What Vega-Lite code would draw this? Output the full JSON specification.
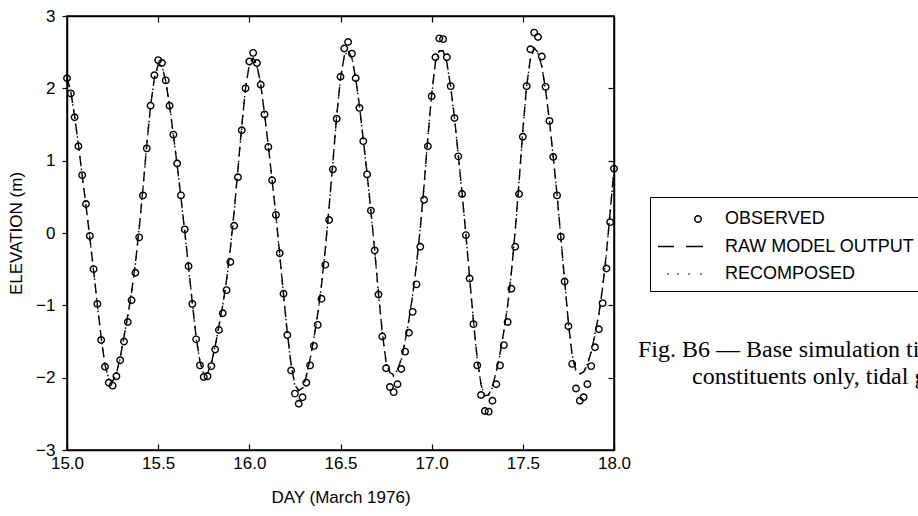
{
"$schema": "https://vega.github.io/schema/vega-lite/v6.json",
"width": 547, "height": 434,
"autosize": "none",
"padding": {"left": 67, "top": 16, "right": 304, "bottom": 66},
"background": "white",
"config": {
  "view": {"stroke": "black", "strokeWidth": 1.5},
  "font": "Liberation Sans",
  "axis": {"labelFont": "Liberation Sans", "labelFontSize": 17, "labelColor": "black", "labelFlush": false, "titleFont": "Liberation Sans", "titleFontSize": 17, "titleFontWeight": "normal", "titleColor": "black", "domainColor": "black", "domainWidth": 1.5, "tickColor": "black", "tickWidth": 1.2, "grid": false}
},
"title": {"text": ["Fig. B6 — Base simulation tidal elevations", "\u200b\u2003\u2003\u00a0constituents only, tidal gage"], "orient": "top", "anchor": "start", "frame": "group", "font": "Liberation Serif", "fontSize": 24, "fontWeight": "normal", "color": "black", "baseline": "top", "lineHeight": 27, "offset": 0, "dx": 571, "dy": 382},
"data": {"values": [
{"day":15.0,"obs":2.14,"raw":2.15,"rec":2.13},
{"day":15.0208,"obs":1.93,"raw":1.95,"rec":1.96},
{"day":15.0417,"obs":1.60,"raw":1.62,"rec":1.60},
{"day":15.0625,"obs":1.20,"raw":1.22,"rec":1.23},
{"day":15.0833,"obs":0.80,"raw":0.80,"rec":0.78},
{"day":15.1042,"obs":0.40,"raw":0.38,"rec":0.39},
{"day":15.125,"obs":-0.04,"raw":-0.06,"rec":-0.08},
{"day":15.1458,"obs":-0.50,"raw":-0.52,"rec":-0.51},
{"day":15.1667,"obs":-0.98,"raw":-0.99,"rec":-1.01},
{"day":15.1875,"obs":-1.48,"raw":-1.45,"rec":-1.44},
{"day":15.2083,"obs":-1.85,"raw":-1.82,"rec":-1.84},
{"day":15.2292,"obs":-2.07,"raw":-2.02,"rec":-2.01},
{"day":15.25,"obs":-2.11,"raw":-2.05,"rec":-2.07},
{"day":15.2708,"obs":-1.98,"raw":-1.95,"rec":-1.94},
{"day":15.2917,"obs":-1.76,"raw":-1.72,"rec":-1.74},
{"day":15.3125,"obs":-1.50,"raw":-1.44,"rec":-1.43},
{"day":15.3333,"obs":-1.23,"raw":-1.14,"rec":-1.16},
{"day":15.3542,"obs":-0.93,"raw":-0.82,"rec":-0.81},
{"day":15.375,"obs":-0.55,"raw":-0.42,"rec":-0.44},
{"day":15.3958,"obs":-0.06,"raw":0.06,"rec":0.07},
{"day":15.4167,"obs":0.52,"raw":0.62,"rec":0.60},
{"day":15.4375,"obs":1.17,"raw":1.22,"rec":1.23},
{"day":15.4583,"obs":1.76,"raw":1.76,"rec":1.74},
{"day":15.4792,"obs":2.18,"raw":2.14,"rec":2.15},
{"day":15.5,"obs":2.39,"raw":2.33,"rec":2.31},
{"day":15.5208,"obs":2.35,"raw":2.31,"rec":2.32},
{"day":15.5417,"obs":2.11,"raw":2.10,"rec":2.08},
{"day":15.5625,"obs":1.76,"raw":1.76,"rec":1.77},
{"day":15.5833,"obs":1.36,"raw":1.36,"rec":1.34},
{"day":15.6042,"obs":0.96,"raw":0.94,"rec":0.95},
{"day":15.625,"obs":0.52,"raw":0.49,"rec":0.47},
{"day":15.6458,"obs":0.05,"raw":0.02,"rec":0.03},
{"day":15.6667,"obs":-0.46,"raw":-0.47,"rec":-0.49},
{"day":15.6875,"obs":-0.98,"raw":-0.97,"rec":-0.96},
{"day":15.7083,"obs":-1.47,"raw":-1.44,"rec":-1.46},
{"day":15.7292,"obs":-1.83,"raw":-1.78,"rec":-1.77},
{"day":15.75,"obs":-1.99,"raw":-1.94,"rec":-1.96},
{"day":15.7708,"obs":-1.98,"raw":-1.94,"rec":-1.93},
{"day":15.7917,"obs":-1.84,"raw":-1.80,"rec":-1.82},
{"day":15.8125,"obs":-1.61,"raw":-1.57,"rec":-1.56},
{"day":15.8333,"obs":-1.34,"raw":-1.28,"rec":-1.30},
{"day":15.8542,"obs":-1.11,"raw":-1.00,"rec":-0.99},
{"day":15.875,"obs":-0.79,"raw":-0.65,"rec":-0.67},
{"day":15.8958,"obs":-0.40,"raw":-0.22,"rec":-0.21},
{"day":15.9167,"obs":0.10,"raw":0.30,"rec":0.28},
{"day":15.9375,"obs":0.77,"raw":0.88,"rec":0.89},
{"day":15.9583,"obs":1.42,"raw":1.48,"rec":1.46},
{"day":15.9792,"obs":2.00,"raw":2.00,"rec":2.01},
{"day":16.0,"obs":2.37,"raw":2.33,"rec":2.31},
{"day":16.0208,"obs":2.49,"raw":2.42,"rec":2.43},
{"day":16.0417,"obs":2.35,"raw":2.32,"rec":2.30},
{"day":16.0625,"obs":2.05,"raw":2.05,"rec":2.06},
{"day":16.0833,"obs":1.64,"raw":1.65,"rec":1.63},
{"day":16.1042,"obs":1.19,"raw":1.20,"rec":1.21},
{"day":16.125,"obs":0.73,"raw":0.73,"rec":0.71},
{"day":16.1458,"obs":0.25,"raw":0.24,"rec":0.25},
{"day":16.1667,"obs":-0.28,"raw":-0.30,"rec":-0.32},
{"day":16.1875,"obs":-0.84,"raw":-0.85,"rec":-0.84},
{"day":16.2083,"obs":-1.41,"raw":-1.38,"rec":-1.40},
{"day":16.2292,"obs":-1.90,"raw":-1.82,"rec":-1.81},
{"day":16.25,"obs":-2.22,"raw":-2.10,"rec":-2.12},
{"day":16.2708,"obs":-2.36,"raw":-2.18,"rec":-2.17},
{"day":16.2917,"obs":-2.27,"raw":-2.14,"rec":-2.16},
{"day":16.3125,"obs":-2.07,"raw":-1.98,"rec":-1.97},
{"day":16.3333,"obs":-1.83,"raw":-1.74,"rec":-1.76},
{"day":16.3542,"obs":-1.56,"raw":-1.45,"rec":-1.44},
{"day":16.375,"obs":-1.27,"raw":-1.12,"rec":-1.14},
{"day":16.3958,"obs":-0.91,"raw":-0.72,"rec":-0.71},
{"day":16.4167,"obs":-0.44,"raw":-0.22,"rec":-0.24},
{"day":16.4375,"obs":0.18,"raw":0.36,"rec":0.37},
{"day":16.4583,"obs":0.88,"raw":0.98,"rec":0.96},
{"day":16.4792,"obs":1.58,"raw":1.62,"rec":1.63},
{"day":16.5,"obs":2.16,"raw":2.14,"rec":2.12},
{"day":16.5208,"obs":2.55,"raw":2.45,"rec":2.46},
{"day":16.5417,"obs":2.64,"raw":2.52,"rec":2.50},
{"day":16.5625,"obs":2.48,"raw":2.42,"rec":2.43},
{"day":16.5833,"obs":2.14,"raw":2.14,"rec":2.12},
{"day":16.6042,"obs":1.73,"raw":1.75,"rec":1.76},
{"day":16.625,"obs":1.27,"raw":1.29,"rec":1.27},
{"day":16.6458,"obs":0.81,"raw":0.82,"rec":0.83},
{"day":16.6667,"obs":0.31,"raw":0.31,"rec":0.29},
{"day":16.6875,"obs":-0.24,"raw":-0.24,"rec":-0.23},
{"day":16.7083,"obs":-0.85,"raw":-0.83,"rec":-0.85},
{"day":16.7292,"obs":-1.43,"raw":-1.38,"rec":-1.37},
{"day":16.75,"obs":-1.87,"raw":-1.78,"rec":-1.80},
{"day":16.7708,"obs":-2.13,"raw":-1.93,"rec":-1.92},
{"day":16.7917,"obs":-2.20,"raw":-1.96,"rec":-1.98},
{"day":16.8125,"obs":-2.09,"raw":-1.90,"rec":-1.89},
{"day":16.8333,"obs":-1.88,"raw":-1.74,"rec":-1.76},
{"day":16.8542,"obs":-1.64,"raw":-1.50,"rec":-1.49},
{"day":16.875,"obs":-1.38,"raw":-1.20,"rec":-1.22},
{"day":16.8958,"obs":-1.09,"raw":-0.86,"rec":-0.85},
{"day":16.9167,"obs":-0.71,"raw":-0.44,"rec":-0.46},
{"day":16.9375,"obs":-0.19,"raw":0.06,"rec":0.07},
{"day":16.9583,"obs":0.46,"raw":0.66,"rec":0.64},
{"day":16.9792,"obs":1.20,"raw":1.32,"rec":1.33},
{"day":17.0,"obs":1.89,"raw":1.92,"rec":1.90},
{"day":17.0208,"obs":2.43,"raw":2.36,"rec":2.37},
{"day":17.0417,"obs":2.69,"raw":2.52,"rec":2.50},
{"day":17.0625,"obs":2.68,"raw":2.52,"rec":2.53},
{"day":17.0833,"obs":2.43,"raw":2.36,"rec":2.34},
{"day":17.1042,"obs":2.03,"raw":2.02,"rec":2.03},
{"day":17.125,"obs":1.59,"raw":1.60,"rec":1.58},
{"day":17.1458,"obs":1.06,"raw":1.08,"rec":1.09},
{"day":17.1667,"obs":0.54,"raw":0.56,"rec":0.54},
{"day":17.1875,"obs":-0.03,"raw":-0.02,"rec":-0.01},
{"day":17.2083,"obs":-0.63,"raw":-0.62,"rec":-0.64},
{"day":17.2292,"obs":-1.26,"raw":-1.22,"rec":-1.21},
{"day":17.25,"obs":-1.83,"raw":-1.74,"rec":-1.76},
{"day":17.2708,"obs":-2.24,"raw":-2.10,"rec":-2.09},
{"day":17.2917,"obs":-2.46,"raw":-2.25,"rec":-2.27},
{"day":17.3125,"obs":-2.47,"raw":-2.24,"rec":-2.23},
{"day":17.3333,"obs":-2.32,"raw":-2.12,"rec":-2.14},
{"day":17.3542,"obs":-2.09,"raw":-1.92,"rec":-1.91},
{"day":17.375,"obs":-1.83,"raw":-1.66,"rec":-1.68},
{"day":17.3958,"obs":-1.55,"raw":-1.36,"rec":-1.35},
{"day":17.4167,"obs":-1.23,"raw":-1.00,"rec":-1.02},
{"day":17.4375,"obs":-0.77,"raw":-0.54,"rec":-0.53},
{"day":17.4583,"obs":-0.19,"raw":0.04,"rec":0.02},
{"day":17.4792,"obs":0.54,"raw":0.70,"rec":0.71},
{"day":17.5,"obs":1.33,"raw":1.42,"rec":1.40},
{"day":17.5208,"obs":2.03,"raw":2.03,"rec":2.04},
{"day":17.5417,"obs":2.54,"raw":2.42,"rec":2.40},
{"day":17.5625,"obs":2.77,"raw":2.55,"rec":2.56},
{"day":17.5833,"obs":2.71,"raw":2.50,"rec":2.48},
{"day":17.6042,"obs":2.44,"raw":2.30,"rec":2.31},
{"day":17.625,"obs":2.02,"raw":1.98,"rec":1.96},
{"day":17.6458,"obs":1.55,"raw":1.55,"rec":1.56},
{"day":17.6667,"obs":1.05,"raw":1.06,"rec":1.04},
{"day":17.6875,"obs":0.52,"raw":0.53,"rec":0.54},
{"day":17.7083,"obs":-0.05,"raw":-0.05,"rec":-0.07},
{"day":17.7292,"obs":-0.67,"raw":-0.66,"rec":-0.65},
{"day":17.75,"obs":-1.29,"raw":-1.24,"rec":-1.26},
{"day":17.7708,"obs":-1.81,"raw":-1.70,"rec":-1.69},
{"day":17.7917,"obs":-2.15,"raw":-1.90,"rec":-1.92},
{"day":17.8125,"obs":-2.32,"raw":-1.95,"rec":-1.94},
{"day":17.8333,"obs":-2.27,"raw":-1.92,"rec":-1.94},
{"day":17.8542,"obs":-2.09,"raw":-1.82,"rec":-1.81},
{"day":17.875,"obs":-1.84,"raw":-1.64,"rec":-1.66},
{"day":17.8958,"obs":-1.58,"raw":-1.40,"rec":-1.39},
{"day":17.9167,"obs":-1.33,"raw":-1.12,"rec":-1.14},
{"day":17.9375,"obs":-0.97,"raw":-0.76,"rec":-0.75},
{"day":17.9583,"obs":-0.49,"raw":-0.28,"rec":-0.30},
{"day":17.9792,"obs":0.15,"raw":0.30,"rec":0.31},
{"day":18.0,"obs":0.89,"raw":0.88,"rec":0.86}
]},
"layer": [
  {
    "mark": {"type": "line", "stroke": "black", "strokeWidth": 1.4, "strokeDash": [10, 6]},
    "encoding": {
      "x": {"field": "day", "type": "quantitative", "scale": {"domain": [15, 18], "nice": false},
            "axis": {"orient": "bottom", "values": [15, 15.5, 16, 16.5, 17, 17.5, 18], "format": ".1f", "title": "DAY (March 1976)", "tickSize": -6, "labelPadding": 11, "titlePadding": 18}},
      "y": {"field": "raw", "type": "quantitative", "scale": {"domain": [-3, 3], "nice": false, "zero": false},
            "axis": {"orient": "left", "values": [-3, -2, -1, 0, 1, 2, 3], "title": "ELEVATION (m)", "tickSize": 5, "labelPadding": 7, "titlePadding": 10}}
    }
  },
  {
    "mark": {"type": "line", "stroke": "black", "strokeWidth": 1.4, "strokeDash": [1.5, 5]},
    "encoding": {
      "x": {"field": "day", "type": "quantitative", "scale": {"domain": [15, 18], "nice": false},
            "axis": {"orient": "top", "values": [15.5, 16, 16.5, 17, 17.5], "labels": false, "title": null, "tickSize": -6}},
      "y": {"field": "rec", "type": "quantitative", "scale": {"domain": [-3, 3], "nice": false, "zero": false},
            "axis": {"orient": "right", "values": [-2, -1, 1, 2], "labels": false, "title": null, "tickSize": -6}}
    }
  },
  {
    "mark": {"type": "point", "filled": false, "size": 676, "stroke": "black", "strokeWidth": 1.4, "opacity": 1},
    "encoding": {
      "x": {"field": "day", "type": "quantitative", "scale": {"domain": [15, 18], "nice": false}, "axis": null},
      "y": {"field": "obs", "type": "quantitative", "scale": {"domain": [-3, 3], "nice": false, "zero": false}, "axis": null},
      "shape": {"datum": "OBSERVED", "type": "nominal",
        "scale": {"domain": ["OBSERVED", "RAW MODEL OUTPUT", "RECOMPOSED"],
                  "range": ["M -0.25,0 A 0.25,0.25 0 1,0 0.25,0 A 0.25,0.25 0 1,0 -0.25,0 Z",
                            "M -3.08,0 L -1.85,0 M -0.92,0 L 0.38,0",
                            "M -2.36,0 L -2.26,0 M -1.59,0 L -1.49,0 M -0.74,0 L -0.64,0 M 0.18,0 L 0.28,0"]},
        "legend": {"title": null, "orient": "none", "legendX": 583, "legendY": 181, "strokeColor": "black", "padding": 8,
          "labelFont": "Liberation Sans", "labelFontSize": 18, "labelColor": "black", "labelOffset": 13, "rowPadding": 4.5,
          "symbolSize": 676, "symbolOffset": 26, "symbolStrokeColor": "black", "symbolStrokeWidth": 1.5, "symbolFillColor": "transparent", "labelLimit": 400}
      }
    }
  }
],
"resolve": {"axis": {"x": "independent", "y": "independent"}}
}
